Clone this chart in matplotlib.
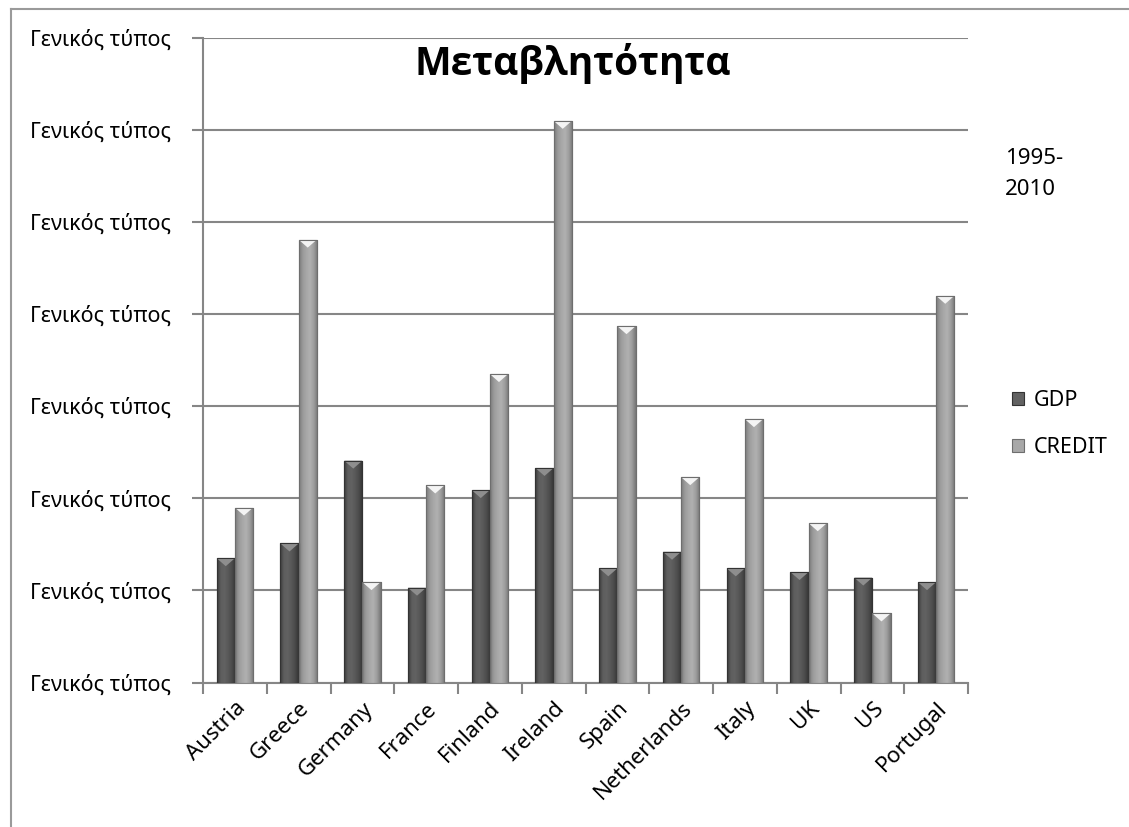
import numpy as np
import matplotlib
matplotlib.use("Agg")
import matplotlib.pyplot as plt
from matplotlib.patches import Patch, Polygon
from matplotlib.lines import Line2D
from matplotlib import font_manager

# ---- data -------------------------------------------------------------
countries = ["Austria", "Greece", "Germany", "France", "Finland", "Ireland",
             "Spain", "Netherlands", "Italy", "UK", "US", "Portugal"]
gdp = [1.35, 1.51, 2.41, 1.03, 2.09, 2.33, 1.24, 1.42, 1.24, 1.20, 1.14, 1.09]
credit = [1.90, 4.81, 1.09, 2.14, 3.35, 6.10, 3.87, 2.23, 2.86, 1.73, 0.75, 4.20]
series_names = ["GDP", "CREDIT"]
y_ticks = [0, 1, 2, 3, 4, 5, 6, 7]
y_tick_label = "Γενικός τύπος"
title = "Μεταβλητότητα"
period = "1995-\n2010"

FONT = ["Noto Sans", "DejaVu Sans"]
plt.rcParams["font.family"] = FONT

# pick a family that really ships a bold face for the title
def bold_family():
    for fam in ["Noto Sans", "Open Sans", "DejaVu Sans"]:
        for f in font_manager.fontManager.ttflist:
            if f.name == fam and f.weight in (700, "bold"):
                return fam
    return "DejaVu Sans"

TITLE_FAMILY = bold_family()

W, H = 1129, 827
fig = plt.figure(figsize=(W / 100, H / 100), dpi=100)
fig.patch.set_facecolor("white")

# plot area in pixel coordinates
L, R, T, B = 203, 968, 38, 682.5
ax = fig.add_axes([L / W, 1 - B / H, (R - L) / W, (B - T) / H])

GRID = "#868686"
ax.set_ylim(y_ticks[0], y_ticks[-1])
ax.set_xlim(-0.5, len(countries) - 0.5)
ax.set_yticks(y_ticks)
ax.set_yticklabels([y_tick_label] * len(y_ticks), fontsize=15.5)
ax.yaxis.grid(True, color=GRID, linewidth=1.5)
ax.set_axisbelow(True)
ax.tick_params(axis="y", length=8, width=1.5, color=GRID, pad=15)

# category boundary ticks + centred rotated labels
ax.set_xticks(np.arange(len(countries) + 1) - 0.5)
ax.set_xticklabels([])
ax.tick_params(axis="x", which="major", length=8, width=1.5, color=GRID)
ax.set_xticks(np.arange(len(countries)), minor=True)
ax.set_xticklabels(countries, minor=True, rotation=45, ha="right",
                   rotation_mode="anchor", fontsize=16)
ax.tick_params(axis="x", which="minor", length=0, pad=11)

for side in ["top", "right"]:
    ax.spines[side].set_visible(False)
ax.spines["left"].set_color(GRID)
ax.spines["left"].set_linewidth(1.5)
ax.spines["bottom"].set_color(GRID)
ax.spines["bottom"].set_linewidth(1.5)

# bar shading profiles (left -> right across each bar)
def hexrgb(h):
    h = h.lstrip("#")
    return [int(h[i:i + 2], 16) / 255 for i in (0, 2, 4)]

profiles = {
    "GDP": (["#3a3a3a", "#5e5e5e", "#626262", "#585858", "#4a4a4a", "#333333"],
            "#8e8e8e", "#333333"),
    "CREDIT": (["#7c7c7c", "#9a9a9a", "#a8a8a8", "#b0b0b0", "#9c9c9c", "#767676"],
               "#f4f4f4", "#6e6e6e"),
}

def profile_image(stops, n=64):
    stops = np.array([hexrgb(s) for s in stops])
    pos = np.linspace(0, 1, len(stops))
    xs = np.linspace(0, 1, n)
    img = np.stack([np.interp(xs, pos, stops[:, c]) for c in range(3)], axis=-1)
    return img[np.newaxis, :, :]

bw = 1 / 3.5  # two bars + 150% gap per category
x = np.arange(len(countries))
px_per_unit = (B - T) / (y_ticks[-1] - y_ticks[0])
tip = 8 / px_per_unit

for offs, vals, name in [(-bw / 2, gdp, "GDP"), (bw / 2, credit, "CREDIT")]:
    stops, top_col, edge = profiles[name]
    bars = ax.bar(x + offs, vals, width=bw, color=stops[2], edgecolor=edge,
                  linewidth=0.8, zorder=3)
    img = profile_image(stops)
    for rect in bars:
        x0, w, h = rect.get_x(), rect.get_width(), rect.get_height()
        im = ax.imshow(img, extent=(x0, x0 + w, 0, h), aspect="auto",
                       interpolation="bilinear", zorder=3.5)
        im.set_clip_path(rect)
        ax.add_patch(Polygon([(x0, h), (x0 + w, h), (x0 + w / 2, h - tip)],
                             closed=True, facecolor=top_col, edgecolor="none",
                             zorder=4))
        ax.add_patch(Polygon([(x0, h), (x0 + w, h), (x0 + w, 0), (x0, 0)],
                             closed=True, facecolor="none", edgecolor=edge,
                             linewidth=0.8, zorder=4.5))

ax.set_xlim(-0.5, len(countries) - 0.5)
ax.set_ylim(y_ticks[0], y_ticks[-1])

# title and period note
fig.text(573 / W, 1 - 75 / H, title, ha="center", va="baseline",
         fontsize=28, fontweight="bold", family=[TITLE_FAMILY, "DejaVu Sans"])
fig.text(1005 / W, 1 - 174 / H, period, ha="left", va="center",
         fontsize=16, linespacing=1.65)

# legend
handles = [Patch(facecolor=profiles[n][0][2], edgecolor=profiles[n][2],
                 linewidth=0.8) for n in series_names]
leg = fig.legend(handles, series_names, loc="center left",
                 bbox_to_anchor=(993 / W, 1 - 424 / H), frameon=False,
                 fontsize=15.5, handlelength=0.55, handleheight=0.55,
                 handletextpad=0.45, labelspacing=1.2)

# chart border
fig.add_artist(Line2D([11 / W, 11 / W], [1 - 9 / H, 0], color="#9a9a9a",
                      linewidth=1.5))
fig.add_artist(Line2D([11 / W, 1], [1 - 9 / H, 1 - 9 / H], color="#9a9a9a",
                      linewidth=1.5))

fig.savefig("out.png", dpi=100, facecolor="white")
